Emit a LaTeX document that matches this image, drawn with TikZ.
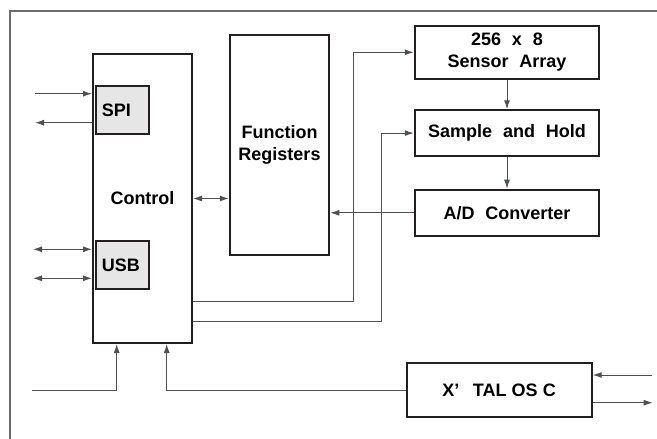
\documentclass[tikz,border=0pt]{standalone}
\usepackage{fontspec}
\setmainfont{Liberation Sans}
\usetikzlibrary{calc,arrows.meta,positioning}

\definecolor{boxline}{HTML}{231F20}
\definecolor{wireline}{HTML}{505050}
\definecolor{portgray}{HTML}{E6E6E6}
\newcommand{\wgap}{\hspace{0.6em}}

\begin{document}
\begin{tikzpicture}[x=1pt,y=-1pt,>={Latex[length=9pt,width=6pt]}]
			\tikzset{block/.style= {draw=boxline, line width=2pt, rectangle, align=center, inner sep=0pt, font=\bfseries\fontsize{18}{21.5}\selectfont},
			port/.style= {block, fill=portgray, minimum width=53pt, minimum height=48pt, text width=42pt, inner xsep=5.5pt, align=left},
			wire/.style= {draw=wireline, line width=1pt},
			}
			\useasboundingbox (0,0) rectangle (657,439);
			\draw[draw=gray!85!black, line width=1.5pt] (10,11) rectangle (690,470);

			\node [block, minimum width=99pt, minimum height=289pt] (ctrl) at (142.5,198.5) {Control};
			\node [port] (spi) at (122.8,110.1) {SPI};
			\node [port] (usb) at (122.8,265) {USB};
			\node [block, minimum width=99.5pt, minimum height=220.5pt] (funcreg) at (279.5,145) {Function\\Registers};
			\node [block, minimum width=184.5pt, minimum height=53.3pt] (sensor) at (507,52.3) {256\wgap x\wgap 8\\Sensor\wgap Array};
			\node [block, minimum width=184.5pt, minimum height=45.7pt, below = 29.3pt of sensor] (sample){Sample\wgap and\wgap Hold};
			\node [block, minimum width=184.5pt, minimum height=46.3pt, below = 31.7pt of sample] (adc){A/D\wgap Converter};
			\node [block, minimum width=185pt, minimum height=53.4pt] (xtal) at (499.2,390) {X’\hspace{0.75em}TAL OS\hspace{0.3em}C};

			% free ends of the outside lines
			\coordinate (spiin) at (35,93.7);
			\coordinate (spiout) at (35,122.7);
			\coordinate (usba) at (33,249.3);
			\coordinate (usbb) at (33,278.3);
			\coordinate (clkin) at (32,390);
			\coordinate (xin) at (652,375);
			\coordinate (xout) at (652.7,402.7);

			\path[wire, ->] (spiin) -- (spiin -| ctrl.west);
			\path[wire, ->] (ctrl.west |- spiout) -- (spiout);
			\path[wire, <->] (usba) -- (usba -| ctrl.west);
			\path[wire, <->] (usbb) -- (usbb -| ctrl.west);

			\path[wire, <->] (ctrl.east) -- (ctrl.east -| funcreg.west);
			\path[wire, ->] (adc.west) -- (adc.west -| funcreg.east);

			\path[wire, ->] (sensor) -- (sample);
			\path[wire, ->] (sample) -- (adc);

			\path[wire, ->]
			($(ctrl.south east)+(0,-43)$) -| ($(sensor.west)+(-60.4,0)$) -- (sensor.west);
			\path[wire, ->]
			($(ctrl.south east)+(0,-23)$) -| ($(sample.west)+(-32.4,0)$) -- (sample.west);

			\path[wire, ->] (clkin) -| ($(ctrl.south)+(-25.8,0)$);
			\path[wire, ->] (xtal.west) -| ($(ctrl.south)+(24.2,0)$);

			\path[wire, ->] (xin) -- (xin -| xtal.east);
			\path[wire, ->] (xtal.east |- xout) -- (xout);
		\end{tikzpicture}
\end{document}
